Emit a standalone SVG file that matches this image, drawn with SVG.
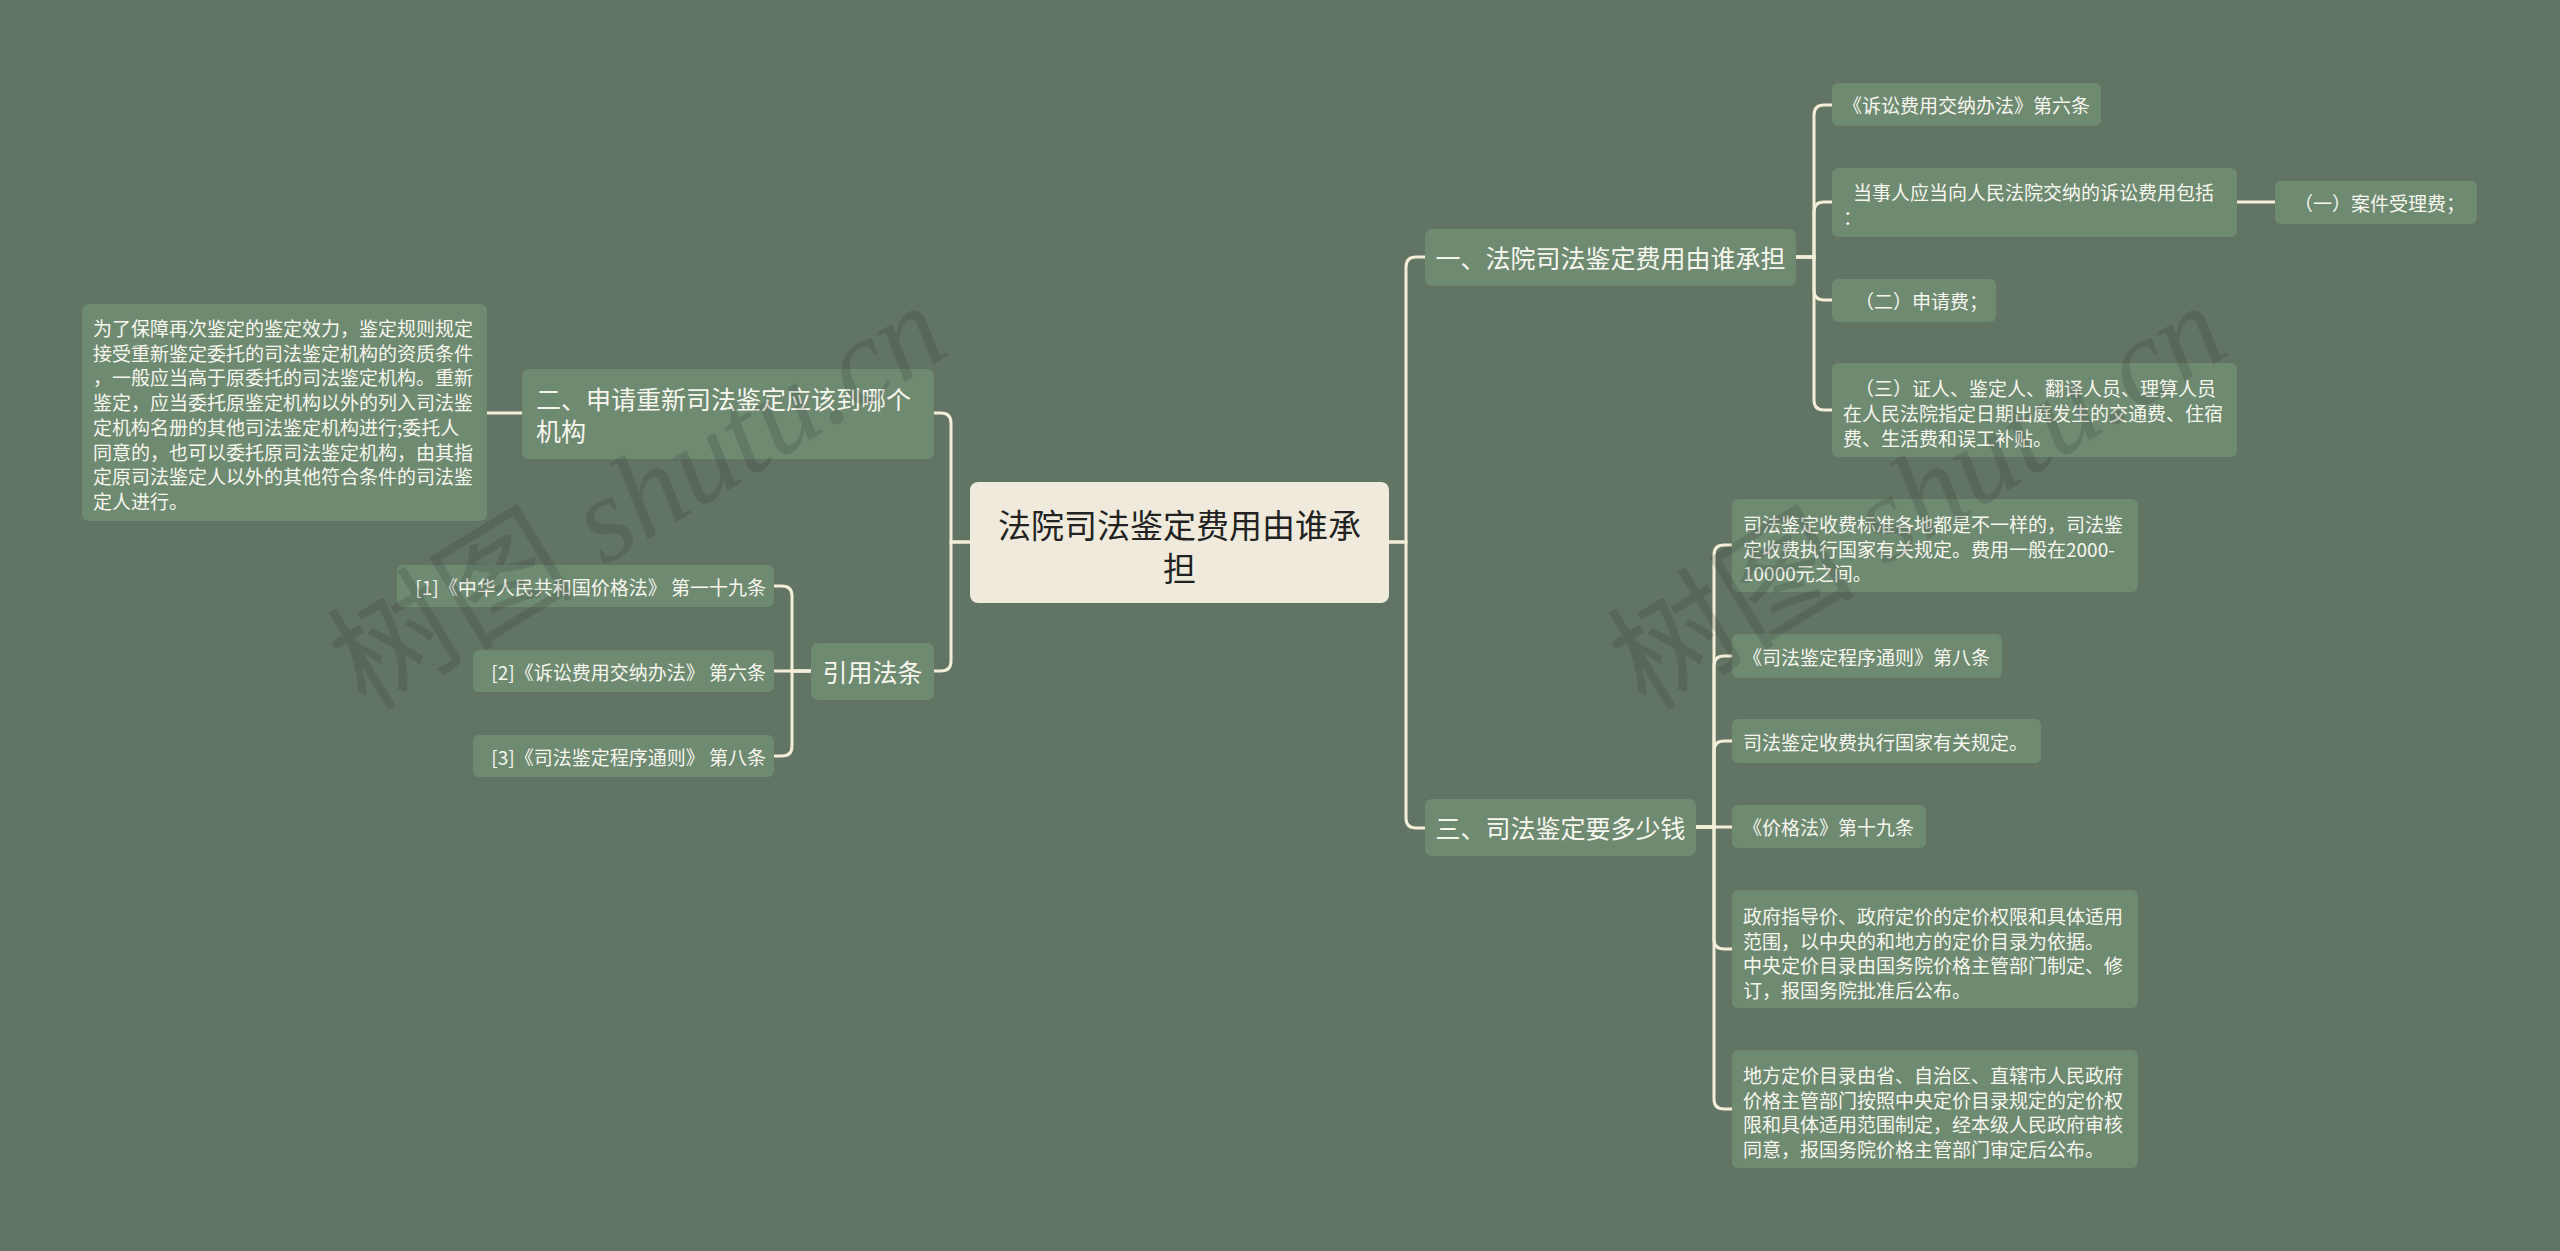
<svg xmlns="http://www.w3.org/2000/svg" width="2560" height="1251" viewBox="0 0 2560 1251">
<style>
.bg{fill:#627463}
.node rect{fill:#6e8b72}
.root rect{fill:#efeadb}
text{font-family:'Noto Sans CJK SC','Noto Sans',sans-serif;dominant-baseline:central}
.t19{font-size:19px;fill:#f7f6ee}
.t25{font-size:25px;fill:#f7f6ee}
.t33{font-size:33px;fill:#222222}
.conn path{fill:none;stroke:#f3eed8;stroke-width:3;stroke-linecap:round}
.wm{font-size:124px;fill:#2a2a2a;fill-opacity:0.17;dominant-baseline:alphabetic}
.wm .lat{font-family:'Liberation Serif',serif;font-style:italic;font-size:122px}
</style>
<rect class="bg" x="0" y="0" width="2560" height="1251"/>

<g id="connectors" class="conn">
<path d="M970 542 H951 V423 Q951 413 941 413 H934"/>
<path d="M970 542 H951 V661 Q951 671 941 671 H934"/>
<path d="M487 413 H522"/>
<path d="M811 671 H792 V596 Q792 586 782 586 H774"/>
<path d="M811 671 H774"/>
<path d="M811 671 H792 V746 Q792 756 782 756 H774"/>
<path d="M1389 542 H1406 V267 Q1406 257 1416 257 H1425"/>
<path d="M1389 542 H1406 V818 Q1406 828 1416 828 H1425"/>
<path d="M1796 257 H1814 V115 Q1814 105 1824 105 H1832"/>
<path d="M1796 257 H1814 V212 Q1814 202 1824 202 H1832"/>
<path d="M1796 257 H1814 V290 Q1814 300 1824 300 H1832"/>
<path d="M1796 257 H1814 V400 Q1814 410 1824 410 H1832"/>
<path d="M2237 202 H2275"/>
<path d="M1696 827 H1714 V555 Q1714 545 1724 545 H1732"/>
<path d="M1696 827 H1714 V666 Q1714 656 1724 656 H1732"/>
<path d="M1696 827 H1714 V751 Q1714 741 1724 741 H1732"/>
<path d="M1696 827 H1732"/>
<path d="M1696 827 H1714 V939 Q1714 949 1724 949 H1732"/>
<path d="M1696 827 H1714 V1099 Q1714 1109 1724 1109 H1732"/>
</g>

<g id="root" class="root">
<rect x="970" y="482" width="419" height="121" rx="8"/>
<text class="t33" x="1179.5" y="524" text-anchor="middle">法院司法鉴定费用由谁承</text>
<text class="t33" x="1179.5" y="567" text-anchor="middle">担</text>
</g>

<g id="n-er" class="node">
<rect x="522" y="369" width="412" height="90" rx="7"/>
<text class="t25" x="536" y="398">二、申请重新司法鉴定应该到哪个</text>
<text class="t25" x="536" y="430">机构</text>
</g>

<g id="n-er-text" class="node">
<rect x="82" y="304" width="405" height="217" rx="7"/>
<text class="t19" x="93" y="327">为了保障再次鉴定的鉴定效力，鉴定规则规定</text>
<text class="t19" x="93" y="352">接受重新鉴定委托的司法鉴定机构的资质条件</text>
<text class="t19" x="93" y="376">，一般应当高于原委托的司法鉴定机构。重新</text>
<text class="t19" x="93" y="401">鉴定，应当委托原鉴定机构以外的列入司法鉴</text>
<text class="t19" x="93" y="426">定机构名册的其他司法鉴定机构进行;委托人</text>
<text class="t19" x="93" y="451">同意的，也可以委托原司法鉴定机构，由其指</text>
<text class="t19" x="93" y="475">定原司法鉴定人以外的其他符合条件的司法鉴</text>
<text class="t19" x="93" y="500">定人进行。</text>
</g>

<g id="n-cite" class="node">
<rect x="811" y="643" width="123" height="57" rx="7"/>
<text class="t25" x="872.5" y="671" text-anchor="middle">引用法条</text>
</g>

<g id="n-cite1" class="node">
<rect x="397" y="565" width="377" height="42" rx="6"/>
<text class="t19" x="766" y="586" text-anchor="end">[1]《中华人民共和国价格法》 第一十九条</text>
</g>
<g id="n-cite2" class="node">
<rect x="473" y="650" width="301" height="42" rx="6"/>
<text class="t19" x="766" y="671" text-anchor="end">[2]《诉讼费用交纳办法》 第六条</text>
</g>
<g id="n-cite3" class="node">
<rect x="473" y="735" width="301" height="42" rx="6"/>
<text class="t19" x="766" y="756" text-anchor="end">[3]《司法鉴定程序通则》 第八条</text>
</g>

<g id="n-yi" class="node">
<rect x="1425" y="229" width="371" height="57" rx="7"/>
<text class="t25" x="1610.5" y="257" text-anchor="middle">一、法院司法鉴定费用由谁承担</text>
</g>

<g id="n-yi-1" class="node">
<rect x="1832" y="83" width="269" height="43" rx="6"/>
<text class="t19" x="1843" y="104.5">《诉讼费用交纳办法》第六条</text>
</g>
<g id="n-yi-2" class="node">
<rect x="1832" y="168" width="405" height="69" rx="6"/>
<text class="t19" x="1853" y="191">当事人应当向人民法院交纳的诉讼费用包括</text>
<text class="t19" x="1843" y="216">：</text>
</g>
<g id="n-yi-2-1" class="node">
<rect x="2275" y="181" width="202" height="43" rx="6"/>
<text class="t19" x="2294" y="202.5">（一）案件受理费；</text>
</g>
<g id="n-yi-3" class="node">
<rect x="1832" y="279" width="164" height="43" rx="6"/>
<text class="t19" x="1855" y="300.5">（二）申请费；</text>
</g>
<g id="n-yi-4" class="node">
<rect x="1832" y="363" width="405" height="94" rx="6"/>
<text class="t19" x="1855" y="387">（三）证人、鉴定人、翻译人员、理算人员</text>
<text class="t19" x="1843" y="412">在人民法院指定日期出庭发生的交通费、住宿</text>
<text class="t19" x="1843" y="437">费、生活费和误工补贴。</text>
</g>

<g id="n-san" class="node">
<rect x="1425" y="799" width="271" height="57" rx="7"/>
<text class="t25" x="1560.5" y="827" text-anchor="middle">三、司法鉴定要多少钱</text>
</g>

<g id="n-san-1" class="node">
<rect x="1732" y="499" width="406" height="93" rx="6"/>
<text class="t19" x="1743" y="523">司法鉴定收费标准各地都是不一样的，司法鉴</text>
<text class="t19" x="1743" y="548">定收费执行国家有关规定。费用一般在2000-</text>
<text class="t19" x="1743" y="572">10000元之间。</text>
</g>
<g id="n-san-2" class="node">
<rect x="1732" y="634" width="270" height="44" rx="6"/>
<text class="t19" x="1743" y="656">《司法鉴定程序通则》第八条</text>
</g>
<g id="n-san-3" class="node">
<rect x="1732" y="719" width="309" height="44" rx="6"/>
<text class="t19" x="1743" y="741">司法鉴定收费执行国家有关规定。</text>
</g>
<g id="n-san-4" class="node">
<rect x="1732" y="805" width="194" height="43" rx="6"/>
<text class="t19" x="1743" y="826.5">《价格法》第十九条</text>
</g>
<g id="n-san-5" class="node">
<rect x="1732" y="890" width="406" height="118" rx="6"/>
<text class="t19" x="1743" y="915">政府指导价、政府定价的定价权限和具体适用</text>
<text class="t19" x="1743" y="940">范围，以中央的和地方的定价目录为依据。</text>
<text class="t19" x="1743" y="964">中央定价目录由国务院价格主管部门制定、修</text>
<text class="t19" x="1743" y="989">订，报国务院批准后公布。</text>
</g>
<g id="n-san-6" class="node">
<rect x="1732" y="1050" width="406" height="118" rx="6"/>
<text class="t19" x="1743" y="1074">地方定价目录由省、自治区、直辖市人民政府</text>
<text class="t19" x="1743" y="1099">价格主管部门按照中央定价目录规定的定价权</text>
<text class="t19" x="1743" y="1123">限和具体适用范围制定，经本级人民政府审核</text>
<text class="t19" x="1743" y="1148">同意，报国务院价格主管部门审定后公布。</text>
</g>

<g id="watermarks">
<text class="wm" transform="translate(366,712) rotate(-31.5)"><tspan>树图</tspan><tspan class="lat"> shutu.cn</tspan></text>
<text class="wm" transform="translate(1646,712) rotate(-31.5)"><tspan>树图</tspan><tspan class="lat"> shutu.cn</tspan></text>
</g>
</svg>
